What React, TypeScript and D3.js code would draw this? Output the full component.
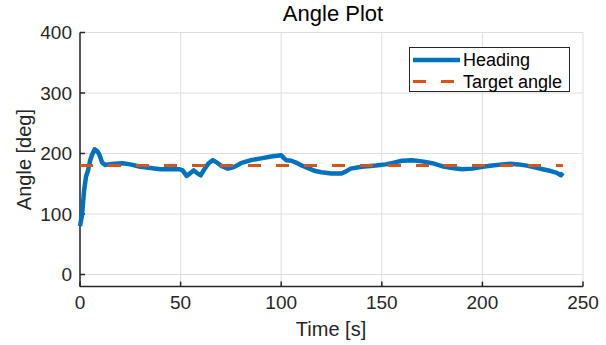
"use client"

import { useEffect, useRef } from "react"
import * as d3 from "d3"

const time = [
  0, 1, 2, 3, 4, 5, 6, 7.3, 8.5, 9.5, 11, 12.5, 14, 17, 21, 25, 30, 35, 40, 45, 49.5, 51, 53, 55, 56.5, 58,
  60, 62, 64, 66, 68.5, 70, 73.5, 76, 78.5, 80, 85, 90, 95, 100, 101.5, 102.5, 105, 108, 111, 114, 117, 120,
  125, 130, 132, 134.5, 140, 147, 152, 156, 160, 165, 170, 175, 180, 185, 190, 195, 200, 205, 210, 214, 218,
  222, 226, 230, 234, 237, 239, 240,
]
const heading = [
  80, 98, 138, 162, 172, 188, 198, 207, 204, 199, 185, 181, 182, 183, 184, 182, 178, 176, 174, 174, 174, 172,
  163, 168, 172, 168, 164, 175, 184, 189, 184, 180, 175, 177, 181, 184, 189, 192, 195, 197, 192, 189, 188,
  184, 179, 175, 171, 169, 167, 167, 170, 175, 178, 180, 182, 185, 188, 189, 187, 184, 179, 176, 174, 175,
  178, 180, 182, 183, 182, 180, 177, 174, 171, 168, 164, 168,
]
const targetTime = [0, 240]
const targetAngle = [180, 180]

const xTicks = [0, 50, 100, 150, 200, 250]
const yTicks = [0, 100, 200, 300, 400]

export default function App() {
  const svgRef = useRef<SVGSVGElement>(null)

  useEffect(() => {
    if (!svgRef.current) return

    const width = 606
    const height = 345
    const font = "'Liberation Sans', Arial, sans-serif"

    const svg = d3.select(svgRef.current).attr("width", width).attr("height", height)
    svg.selectAll("*").remove()

    svg.append("rect").attr("width", width).attr("height", height).attr("fill", "white")

    const x = d3.scaleLinear().domain([0, 250]).range([80, 583])
    const y = d3.scaleLinear().domain([-20, 400]).range([286.6, 32.5])

    // grid
    const grid = svg.append("g").attr("stroke", "#dedede").attr("stroke-width", 1)
    xTicks.forEach((t) => {
      grid.append("line").attr("x1", x(t)).attr("x2", x(t)).attr("y1", y(-20)).attr("y2", y(400))
    })
    yTicks.forEach((t) => {
      grid.append("line").attr("x1", x(0)).attr("x2", x(250)).attr("y1", y(t)).attr("y2", y(t))
    })

    // axes
    const axisColor = "#262626"
    svg
      .append("line")
      .attr("x1", x(0))
      .attr("x2", x(250))
      .attr("y1", y(-20))
      .attr("y2", y(-20))
      .attr("stroke", axisColor)
      .attr("stroke-width", 1.5)
    svg
      .append("line")
      .attr("x1", x(0))
      .attr("x2", x(0))
      .attr("y1", y(-20))
      .attr("y2", y(400))
      .attr("stroke", axisColor)
      .attr("stroke-width", 1.5)

    xTicks.forEach((t) => {
      svg
        .append("line")
        .attr("x1", x(t))
        .attr("x2", x(t))
        .attr("y1", y(-20))
        .attr("y2", y(-20) - 5)
        .attr("stroke", axisColor)
        .attr("stroke-width", 1.5)
      svg
        .append("text")
        .attr("x", x(t))
        .attr("y", 309)
        .attr("text-anchor", "middle")
        .attr("font-family", font)
        .attr("font-size", 19)
        .attr("fill", axisColor)
        .text(t)
    })
    yTicks.forEach((t) => {
      svg
        .append("line")
        .attr("x1", x(0))
        .attr("x2", x(0) + 5)
        .attr("y1", y(t))
        .attr("y2", y(t))
        .attr("stroke", axisColor)
        .attr("stroke-width", 1.5)
      svg
        .append("text")
        .attr("x", 72)
        .attr("y", y(t))
        .attr("dy", "0.35em")
        .attr("text-anchor", "end")
        .attr("font-family", font)
        .attr("font-size", 19)
        .attr("fill", axisColor)
        .text(t)
    })

    // labels
    svg
      .append("text")
      .attr("x", 333)
      .attr("y", 21)
      .attr("text-anchor", "middle")
      .attr("font-family", font)
      .attr("font-size", 22)
      .attr("fill", "#000")
      .text("Angle Plot")
    svg
      .append("text")
      .attr("x", 331)
      .attr("y", 336)
      .attr("text-anchor", "middle")
      .attr("font-family", font)
      .attr("font-size", 20)
      .attr("fill", axisColor)
      .text("Time [s]")
    svg
      .append("text")
      .attr("transform", `translate(31,${(y(-20) + y(400)) / 2}) rotate(-90)`)
      .attr("text-anchor", "middle")
      .attr("font-family", font)
      .attr("font-size", 20)
      .attr("fill", axisColor)
      .text("Angle [deg]")

    // data
    const line = d3
      .line<number>()
      .x((d, i) => x(time[i]))
      .y((d) => y(d))
    svg
      .append("path")
      .datum(heading)
      .attr("d", line)
      .attr("fill", "none")
      .attr("stroke", "#0072BD")
      .attr("stroke-width", 4.5)
      .attr("stroke-linejoin", "round")

    const target = d3
      .line<number>()
      .x((d, i) => x(targetTime[i]))
      .y((d) => y(d))
    svg
      .append("path")
      .datum(targetAngle)
      .attr("d", target)
      .attr("fill", "none")
      .attr("stroke", "#D95319")
      .attr("stroke-width", 3)
      .attr("stroke-dasharray", "13,15")

    // legend
    const lg = svg.append("g")
    lg.append("rect")
      .attr("x", 409.5)
      .attr("y", 47.5)
      .attr("width", 160)
      .attr("height", 44)
      .attr("fill", "white")
      .attr("stroke", axisColor)
      .attr("stroke-width", 1)
    lg.append("line")
      .attr("x1", 413)
      .attr("x2", 460)
      .attr("y1", 60)
      .attr("y2", 60)
      .attr("stroke", "#0072BD")
      .attr("stroke-width", 4.5)
    lg.append("line")
      .attr("x1", 413)
      .attr("x2", 460)
      .attr("y1", 81.5)
      .attr("y2", 81.5)
      .attr("stroke", "#D95319")
      .attr("stroke-width", 3)
      .attr("stroke-dasharray", "13,15")
    lg.append("text")
      .attr("x", 463)
      .attr("y", 60)
      .attr("dy", "0.35em")
      .attr("font-family", font)
      .attr("font-size", 18)
      .attr("fill", "#000")
      .text("Heading")
    lg.append("text")
      .attr("x", 463)
      .attr("y", 81.5)
      .attr("dy", "0.35em")
      .attr("font-family", font)
      .attr("font-size", 18)
      .attr("fill", "#000")
      .text("Target angle")
  }, [])

  return (
    <svg ref={svgRef} style={{ position: "absolute", left: 0, top: 0, display: "block" }} />
  )
}
